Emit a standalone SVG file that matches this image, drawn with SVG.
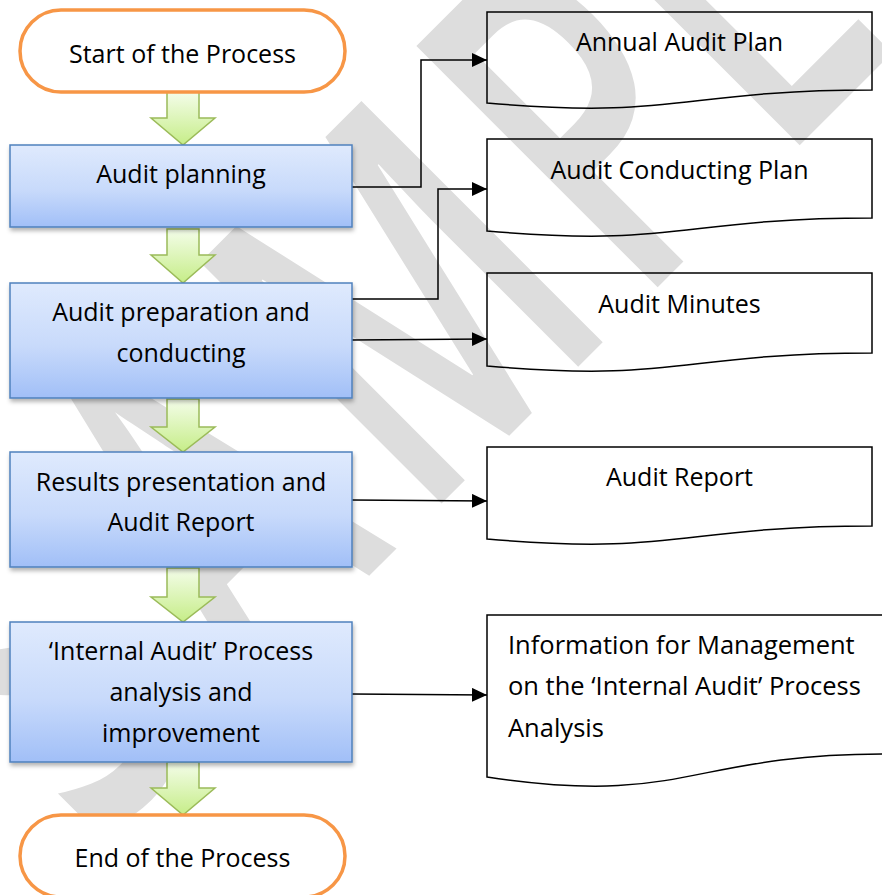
<svg xmlns="http://www.w3.org/2000/svg" width="882" height="895" viewBox="0 0 882 895">
<defs>
<linearGradient id="gBlue" x1="0" y1="0" x2="0" y2="1">
<stop offset="0" stop-color="#dfeafd"/>
<stop offset="0.55" stop-color="#c8dafb"/>
<stop offset="1" stop-color="#a1bff7"/>
</linearGradient>
<linearGradient id="gGreen" x1="0" y1="0" x2="0" y2="1">
<stop offset="0" stop-color="#f4fdea"/>
<stop offset="1" stop-color="#c6ed88"/>
</linearGradient>
<filter id="shadow" x="-10%" y="-10%" width="125%" height="135%">
<feDropShadow dx="1" dy="3" stdDeviation="2" flood-color="#000" flood-opacity="0.3"/>
</filter>
<marker id="arr" markerUnits="userSpaceOnUse" markerWidth="16" markerHeight="16" refX="15" refY="7" orient="auto">
<path d="M0,0 L15,7 L0,14 Z" fill="#000"/>
</marker>
<style>
.t{font-family:"Open Sans","Liberation Sans",sans-serif;font-size:25px;fill:#000;text-anchor:middle}
.tl{font-family:"Open Sans","Liberation Sans",sans-serif;font-size:25.5px;fill:#000}
.box{fill:url(#gBlue);stroke:#4f81bd;stroke-width:1.5;filter:url(#shadow)}
.term{fill:#fff;stroke:#f79646;stroke-width:3.5}
.garr{fill:url(#gGreen);stroke:#9bbb59;stroke-width:1.5;stroke-linejoin:miter}
.doc{fill:none;stroke:#000;stroke-width:1.5}
.con{fill:none;stroke:#000;stroke-width:1.5;marker-end:url(#arr)}
.wm{font-family:"Open Sans","Liberation Sans",sans-serif;font-size:478px;font-weight:600;fill:#dddddd;text-anchor:middle}
</style>
</defs>
<rect width="882" height="895" fill="#fff"/>

<g id="watermark">
<text class="wm" transform="translate(472.5,472.5) rotate(-45) scale(0.65,1)"><tspan x="-692" y="0">S</tspan><tspan x="-323" y="0">A</tspan><tspan x="108" y="0">M</tspan><tspan x="505" y="0">P</tspan><tspan x="797" y="0">L</tspan><tspan x="1103" y="0">E</tspan></text>
</g>

<g id="connectors">
<path class="con" d="M352,187 H421 V60 H487"/>
<path class="con" d="M352,299 H438 V189 H487"/>
<path class="con" d="M352,340 L487,339"/>
<path class="con" d="M352,500 L487,501"/>
<path class="con" d="M352,694 L487,695"/>
</g>

<g id="flow-arrows">
<path class="garr" d="M167,92 H199 V118 H215 L183,145 L151,118 H167 Z"/>
<path class="garr" d="M167,229 H199 V255 H215 L183,283 L151,255 H167 Z"/>
<path class="garr" d="M167,399 H199 V427 H215 L183,452 L151,427 H167 Z"/>
<path class="garr" d="M167,568 H199 V597 H215 L183,622 L151,597 H167 Z"/>
<path class="garr" d="M167,762 H199 V788 H215 L183,815 L151,788 H167 Z"/>
</g>

<g id="start">
<rect class="term" x="20" y="10" width="325" height="82" rx="41" ry="41"/>
<text class="t" x="182.5" y="63">Start of the Process</text>
</g>

<g id="audit-planning">
<rect class="box" x="10" y="145" width="342" height="82"/>
<text class="t" x="181" y="183">Audit planning</text>
</g>

<g id="audit-preparation">
<rect class="box" x="10" y="283" width="342" height="115"/>
<text class="t" x="181" y="321">Audit preparation and</text>
<text class="t" x="181" y="362">conducting</text>
</g>

<g id="results-presentation">
<rect class="box" x="10" y="452" width="342" height="115"/>
<text class="t" x="181" y="491">Results presentation and</text>
<text class="t" x="181" y="531">Audit Report</text>
</g>

<g id="process-analysis">
<rect class="box" x="10" y="622" width="342" height="140"/>
<text class="t" x="181" y="660">‘Internal Audit’ Process</text>
<text class="t" x="181" y="701">analysis and</text>
<text class="t" x="181" y="742">improvement</text>
</g>

<g id="end">
<rect class="term" x="20" y="815" width="325" height="82" rx="41" ry="41"/>
<text class="t" x="182.5" y="867">End of the Process</text>
</g>

<g id="doc-annual-plan">
<path class="doc" d="M487,12 H872 V90 C679.5,90 679.5,120 487,103 Z"/>
<text class="t" x="679.5" y="51">Annual Audit Plan</text>
</g>

<g id="doc-conducting-plan">
<path class="doc" d="M487,139 H872 V218 C679.5,218 679.5,248 487,231 Z"/>
<text class="t" x="679.5" y="179">Audit Conducting Plan</text>
</g>

<g id="doc-minutes">
<path class="doc" d="M487,273 H872 V353 C679.5,353 679.5,383 487,366 Z"/>
<text class="t" x="679.5" y="313">Audit Minutes</text>
</g>

<g id="doc-report">
<path class="doc" d="M487,447 H872 V526 C679.5,526 679.5,556 487,539 Z"/>
<text class="t" x="679.5" y="486">Audit Report</text>
</g>

<g id="doc-management-info">
<path class="doc" d="M487,615 H886 V754 C686.5,754 686.5,807 487,777 Z"/>
<text class="tl" x="508" y="654">Information for Management</text>
<text class="tl" x="508" y="695">on the ‘Internal Audit’ Process</text>
<text class="tl" x="508" y="737">Analysis</text>
</g>
</svg>
